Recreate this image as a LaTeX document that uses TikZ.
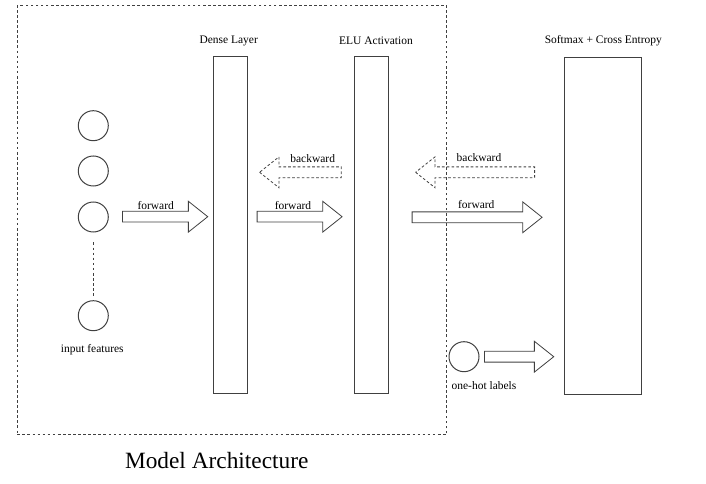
\documentclass[tikz,border=0pt]{standalone}
\usepackage{fontspec}
\setmainfont{Liberation Serif}
\usetikzlibrary{shapes.arrows}

\tikzset{
	layer/.style={draw=black!75, line width=0.75pt, minimum width=25.5pt, minimum height=252.5pt, inner sep=0pt},
	unit/.style={shape=circle, draw=black!75, line width=0.75pt, minimum size=22.5pt, inner sep=0pt},
	fatarrow/.style={shape=single arrow, draw=black!75, line width=0.6pt, inner xsep=0pt, inner ysep=3.75pt,
		single arrow head extend=7.5pt, single arrow tip angle=77, anchor=tail},
	backarrow/.style={fatarrow, dashed, dash pattern=on 2pt off 1.6pt, shape border rotate=180},
	caption/.style={font=\rmfamily\fontsize{8.6}{10}\selectfont, inner sep=0pt}
}

\begin{document}
\begin{tikzpicture}[x=0.75pt, y=-0.75pt]
	
	\useasboundingbox (0, 0) rectangle (706, 484);
	
	\node[draw=black!75, line width=0.6pt, dash pattern=on 2pt off 1.8pt, minimum width=322pt, minimum height=321.75pt, inner sep=0pt] (arch) at (232, 220.2) {};
	\node[font=\rmfamily\fontsize{17.5}{20}\selectfont, inner sep=0pt] (archlabel) at (216.7, 461) {Model Architecture};
	
	% inputs
	\node[unit] (x1) at (93.3, 125.7) {};
	\node[unit] (x2) at (93.3, 171)   {};
	\node[unit] (x3) at (93.3, 217)   {};
	\node[unit] (xn) at (93.3, 315.7) {};
	\node[caption] (inlabel) at (92.3, 349.3) {input features};
	\draw[black!75, line width=0.6pt, dash pattern=on 2pt off 1.8pt, shorten <=7.5pt, shorten >=2.5pt] (x3.south) -- (xn.north);
	
	% layers
	\node[layer] (dense) at (230, 225.3)   {};
	\node[layer] (elu)   at (371.2, 225.3) {};
	\node[layer, minimum width=57.5pt] (softmax) at (603.3, 225.7) {};
	\node[caption] (denselabel)   at (228.7, 40.7) {Dense Layer};
	\node[caption] (elulabel)     at (376, 40.7)   {ELU Activation};
	\node[caption] (softmaxlabel) at (603.3, 40.7) {Softmax + Cross Entropy};
	
	% labels
	\node[unit] (onehot) at (464, 356.7) {};
	\node[caption] (ohlabel) at (484, 386) {one-hot labels};
	
	% forward / backward
	\node[fatarrow, minimum height=64pt]    (f1) at (122, 216.7)   {};
	\node[fatarrow, minimum height=63.75pt] (f2) at (256.7, 216.7) {};
	\node[fatarrow, minimum height=97.5pt]  (f3) at (411.7, 217.3) {};
	\node[fatarrow, minimum height=52pt]    (f4) at (484, 356.7)   {};
	\node[backarrow, minimum height=61.3pt] (b1) at (341.7, 172.3) {};
	\node[backarrow, minimum height=89.25pt] (b2) at (535, 172.3)  {};
	
	\node[caption] (lf1) at (155.7, 205.7) {forward};
	\node[caption] (lf2) at (293, 205.7)   {forward};
	\node[caption] (lf3) at (476.3, 205)   {forward};
	\node[caption] (lb1) at (312.7, 158.7) {backward};
	\node[caption] (lb2) at (479, 158)     {backward};
	
\end{tikzpicture}
\end{document}
